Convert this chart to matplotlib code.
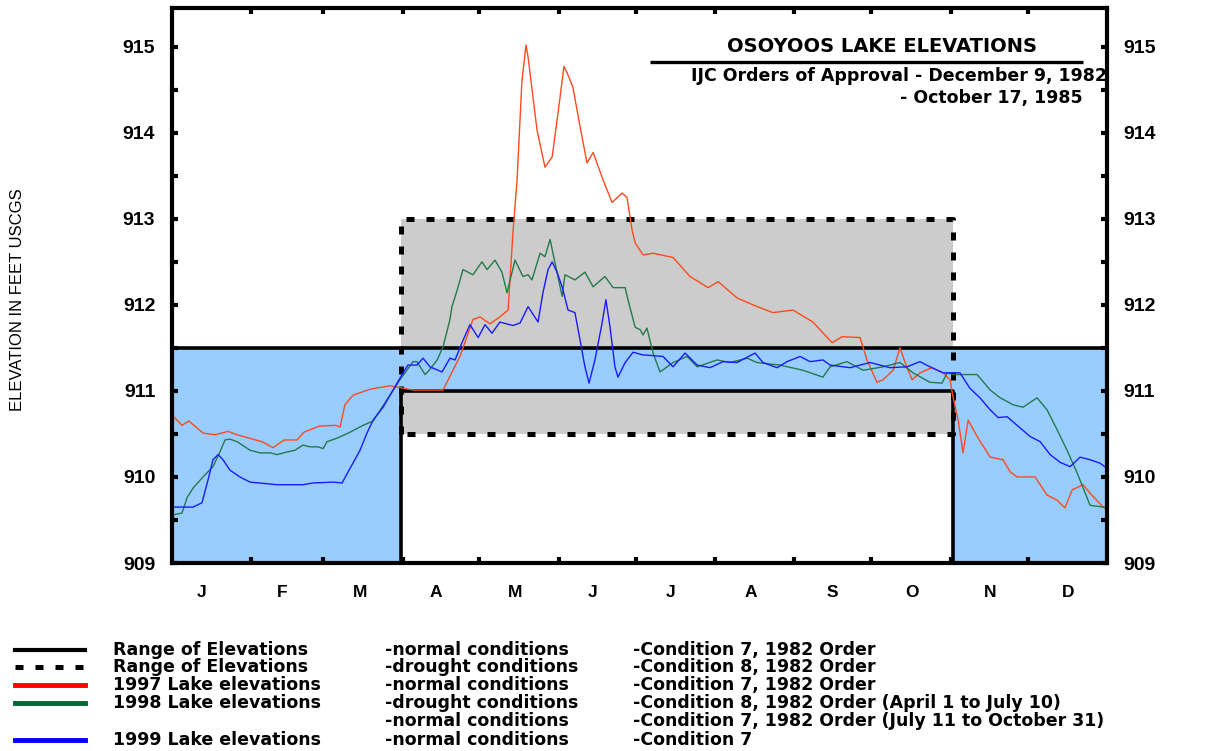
import matplotlib
matplotlib.use("Agg")
import matplotlib.pyplot as plt
from matplotlib.lines import Line2D

# day of year / elevation (ft USCGS)
days_1997 = [0, 3.9, 6.6, 12.1, 16.8, 21.9, 25.4, 35.1, 39.4, 43.8, 48.8, 51.5, 57.4, 63.6, 65.6, 67.5,
             70.7, 77.3, 85.1, 94.1, 105.8, 112.4, 117.5, 120.2, 124.1, 128.0, 131.2, 133.1, 134.7,
             136.6, 138.2, 139.0, 142.5, 145.6, 148.4, 150.7, 153.0, 154.2, 156.5, 159.3, 162.0,
             164.4, 168.3, 171.8, 175.7, 177.6, 179.6, 180.8, 183.9, 187.8, 195.6, 202.2, 209.3,
             213.2, 220.6, 228.4, 234.6, 242.4, 250.2, 257.7, 261.6, 268.6, 271.3, 275.2, 277.6,
             281.5, 284.2, 286.2, 288.9, 292.0, 296.7, 301.0, 303.7, 304.9, 306.9, 308.8, 310.8,
             314.3, 319.4, 324.4, 327.2, 329.9, 336.9, 341.6, 345.5, 348.6, 351.4, 355.7, 358.4,
             363.5, 365]
elev_1997 = [910.72, 910.60, 910.65, 910.51, 910.49, 910.53, 910.49, 910.41, 910.34, 910.43, 910.43,
             910.52, 910.59, 910.60, 910.58, 910.84, 910.95, 911.02, 911.06, 911.01, 911.01, 911.40,
             911.83, 911.86, 911.78, 911.86, 911.94, 912.84, 913.45, 914.60, 915.02, 914.88, 914.03,
             913.60, 913.72, 914.23, 914.77, 914.70, 914.53, 914.07, 913.65, 913.77, 913.45, 913.19,
             913.30, 913.25, 912.87, 912.72, 912.58, 912.60, 912.55, 912.33, 912.20, 912.27, 912.08,
             911.98, 911.91, 911.94, 911.80, 911.56, 911.63, 911.62, 911.36, 911.10, 911.13, 911.24,
             911.50, 911.33, 911.13, 911.21, 911.27, 911.21, 911.13, 910.93, 910.66, 910.28, 910.66,
             910.47, 910.23, 910.20, 910.06, 910.00, 910.00, 909.79, 909.73, 909.64, 909.85, 909.91,
             909.81, 909.65, 909.62]

days_1998 = [0.4, 3.9, 5.9, 8.2, 12.1, 16.0, 18.7, 20.7, 22.6, 25.4, 30.5, 34.4, 38.3, 41.0, 44.9,
             48.0, 51.1, 53.9, 57.0, 59.0, 60.5, 64.4, 69.5, 74.6, 78.5, 89.0, 94.1, 95.6, 98.8,
             100.7, 103.5, 105.8, 108.5, 109.3, 111.3, 113.6, 117.5, 121.0, 123.0, 126.1, 128.8,
             130.8, 132.0, 133.9, 137.0, 139.0, 140.5, 143.7, 145.6, 147.6, 149.5, 152.3, 153.4,
             157.3, 161.2, 164.4, 169.0, 172.2, 176.9, 178.0, 180.8, 182.8, 183.9, 185.4, 187.8,
             190.5, 195.6, 201.1, 205.0, 212.8, 217.8, 224.5, 228.4, 237.4, 246.3, 254.1, 256.9,
             263.5, 269.8, 277.6, 284.2, 289.3, 295.9, 300.6, 302.6, 304.9, 314.3, 319.4, 323.3,
             328.3, 332.2, 337.7, 341.6, 345.5, 349.4, 353.3, 358.4, 363.5, 365]
elev_1998 = [909.56, 909.58, 909.76, 909.87, 910.00, 910.12, 910.29, 910.43, 910.44, 910.41, 910.31,
             910.28, 910.28, 910.26, 910.29, 910.31, 910.37, 910.35, 910.35, 910.33, 910.41, 910.45,
             910.52, 910.60, 910.65, 911.13, 911.34, 911.34, 911.19, 911.25, 911.36, 911.51, 911.83,
             911.98, 912.17, 912.41, 912.35, 912.50, 912.41, 912.52, 912.38, 912.14, 912.29, 912.52,
             912.33, 912.35, 912.29, 912.60, 912.56, 912.76, 912.49, 912.10, 912.35, 912.29, 912.38,
             912.21, 912.33, 912.20, 912.20, 912.06, 911.74, 911.71, 911.65, 911.73, 911.44, 911.22,
             911.33, 911.40, 911.28, 911.36, 911.33, 911.38, 911.33, 911.30, 911.24, 911.16, 911.28,
             911.34, 911.24, 911.28, 911.33, 911.21, 911.10, 911.09, 911.21, 911.19, 911.19, 911.01,
             910.92, 910.84, 910.81, 910.92, 910.78, 910.55, 910.31, 910.05, 909.67, 909.65, 909.65]

days_1999 = [0, 8.2, 11.7, 14.1, 16.0, 18.0, 19.9, 22.6, 26.5, 30.5, 41.0, 51.1, 55.0, 62.9, 66.4,
             69.5, 73.4, 76.1, 78.5, 82.4, 86.3, 90.2, 92.1, 95.6, 98.0, 100.7, 105.4, 108.5, 110.5,
             113.2, 116.3, 119.5, 122.2, 124.9, 128.0, 133.1, 135.9, 139.0, 142.9, 144.8, 146.8,
             148.4, 150.3, 152.3, 154.6, 157.3, 159.3, 161.2, 162.8, 165.1, 167.9, 169.4, 171.0,
             172.9, 174.1, 176.9, 180.0, 183.5, 187.8, 191.7, 195.6, 200.3, 205.0, 210.0, 215.1,
             220.6, 227.6, 230.7, 236.2, 240.1, 245.2, 249.1, 254.1, 256.9, 264.7, 272.5, 280.3,
             286.9, 292.0, 295.9, 301.0, 307.6, 311.5, 315.4, 319.4, 322.5, 326.0, 329.9, 335.0,
             338.9, 342.8, 346.7, 350.6, 354.5, 358.4, 362.3, 365]
elev_1999 = [909.65, 909.65, 909.70, 909.97, 910.20, 910.26, 910.20, 910.08, 910.00, 909.94, 909.91,
             909.91, 909.93, 909.94, 909.93, 910.10, 910.31, 910.51, 910.66, 910.81, 911.01, 911.21,
             911.30, 911.30, 911.38, 911.28, 911.22, 911.38, 911.36, 911.56, 911.77, 911.62, 911.77,
             911.67, 911.80, 911.76, 911.79, 911.98, 911.80, 912.14, 912.41, 912.50, 912.38, 912.21,
             911.94, 911.91, 911.59, 911.28, 911.09, 911.36, 911.79, 912.06, 911.74, 911.28, 911.16,
             911.33, 911.45, 911.42, 911.41, 911.40, 911.28, 911.44, 911.30, 911.27, 911.34, 911.33,
             911.44, 911.33, 911.27, 911.34, 911.40, 911.34, 911.36, 911.30, 911.27, 911.33, 911.27,
             911.28, 911.34, 911.28, 911.21, 911.21, 911.03, 910.92, 910.78, 910.69, 910.70, 910.60,
             910.47, 910.41, 910.26, 910.17, 910.12, 910.23, 910.20, 910.16, 910.10]

month_starts = [0, 31, 59, 90, 120, 151, 181, 212, 243, 273, 304, 334, 365]
month_labels = ["J", "F", "M", "A", "M", "J", "J", "A", "S", "O", "N", "D"]
# where the month letters sit (day of year), as on the original
month_label_days = [11.7, 43, 73.4, 103, 134, 164, 194.5, 226, 257.7, 289, 319.5, 350]

# operating ranges (IJC 1982 order)
season_start, season_end = 89.5, 305
normal_low, normal_high = 911.0, 911.5
drought_low, drought_high = 910.5, 913.0

legend_rows = [
    ("Range of Elevations", "-normal conditions", "-Condition 7, 1982 Order"),
    ("Range of Elevations", "-drought conditions", "-Condition 8, 1982 Order"),
    ("1997 Lake elevations", "-normal conditions", "-Condition 7, 1982 Order"),
    ("1998 Lake elevations", "-drought conditions", "-Condition 8, 1982 Order (April 1 to July 10)"),
    ("", "-normal conditions", "-Condition 7, 1982 Order (July 11 to October 31)"),
    ("1999 Lake elevations", "-normal conditions", "-Condition 7"),
]

DASH = (0, (1.6, 2.4))

fig = plt.figure(figsize=(12.12, 7.51), dpi=100)
ax = fig.add_axes([172 / 1212, 188 / 751, 935 / 1212, 555 / 751])

# shaded ranges
ax.fill_between([0, 365], 909, normal_high, color="#99ccff", lw=0, zorder=1)
ax.fill_between([season_start, season_end], 909, normal_low, color="white", lw=0, zorder=1.5)
ax.fill_between([season_start, season_end], drought_low, normal_low, color="#cccccc", lw=0, zorder=1.6)
ax.fill_between([season_start, season_end], normal_high, drought_high, color="#cccccc", lw=0, zorder=1.6)

# range outlines
ax.plot([0, 365], [normal_high, normal_high], color="black", lw=2.6, zorder=4)
ax.plot([season_start, season_start, season_end, season_end], [909, normal_low, normal_low, 909],
        color="black", lw=2.6, zorder=4)
ax.plot([season_start, season_start, season_end, season_end, season_start],
        [drought_low, drought_high, drought_high, drought_low, drought_low],
        color="black", lw=3.6, ls=DASH, zorder=4)

ax.plot(days_1997, elev_1997, color="#ff4a1c", lw=1.0, zorder=5)
ax.plot(days_1998, elev_1998, color="#237a4a", lw=1.0, zorder=5)
ax.plot(days_1999, elev_1999, color="#1a1aff", lw=1.0, zorder=5)

ax.set_xlim(0, 365)
ax.set_ylim(909, 915.45)
for s in ax.spines.values():
    s.set_linewidth(3)
    s.set_zorder(6)

ax.set_xticks(month_starts[1:-1])
ax.set_xticklabels([])
ax.set_xticks(month_label_days, minor=True)
ax.set_xticklabels(month_labels, minor=True, fontsize=12.5, fontweight="bold", family="Liberation Sans")
ax.tick_params(axis="x", which="major", direction="in", length=4, width=3, top=True, bottom=True)
ax.tick_params(axis="x", which="minor", length=0, pad=16)

ax.set_yticks(range(909, 916))
ax.set_yticklabels([str(v) for v in range(909, 916)], fontsize=14, fontweight="bold", family="Liberation Sans")
ax.set_yticks([909.5 + i for i in range(6)], minor=True)
ax.tick_params(axis="y", which="both", direction="in", length=4, width=3, left=True, right=True,
               labelleft=True, labelright=True, pad=12)

fig.text(18 / 1212, 1 - 300 / 751, "ELEVATION IN FEET USCGS", rotation=90, ha="center", va="center",
         fontsize=12, family="Liberation Sans")

# title block
ax.text(0.759, 0.93, "OSOYOOS LAKE ELEVATIONS", transform=ax.transAxes, ha="center", va="center",
        fontsize=14, family="DejaVu Sans", fontweight="semibold", zorder=7)
ax.plot([0.511, 0.974], [0.903, 0.903], transform=ax.transAxes, color="black", lw=2.4, zorder=7,
        solid_capstyle="butt")
ax.text(1.0, 0.877, "IJC Orders of Approval - December 9, 1982", transform=ax.transAxes, ha="right",
        va="center", fontsize=12.5, family="DejaVu Sans", fontweight="bold", zorder=7)
ax.text(0.974, 0.838, "- October 17, 1985", transform=ax.transAxes, ha="right", va="center",
        fontsize=12.5, family="DejaVu Sans", fontweight="bold", zorder=7)

# legend below the plot
row_y = [650, 667, 685, 703, 721, 740]
legend_styles = [dict(color="black", lw=3), dict(color="black", lw=3.6, ls=DASH),
                 dict(color="#ff0000", lw=3.5), dict(color="#006633", lw=3.5), None,
                 dict(color="#0000ff", lw=3.5)]
for (c1, c2, c3), py, st in zip(legend_rows, row_y, legend_styles):
    fy = 1 - py / 751
    if st is not None:
        fig.add_artist(Line2D([15 / 1212, 85 / 1212], [fy, fy], transform=fig.transFigure, **st))
    for px, txt in zip([113, 385, 633], [c1, c2, c3]):
        if txt:
            fig.text(px / 1212, fy, txt, ha="left", va="center", fontsize=12.5,
                     family="DejaVu Sans", fontweight="bold")

fig.savefig("out.png", dpi=100)
